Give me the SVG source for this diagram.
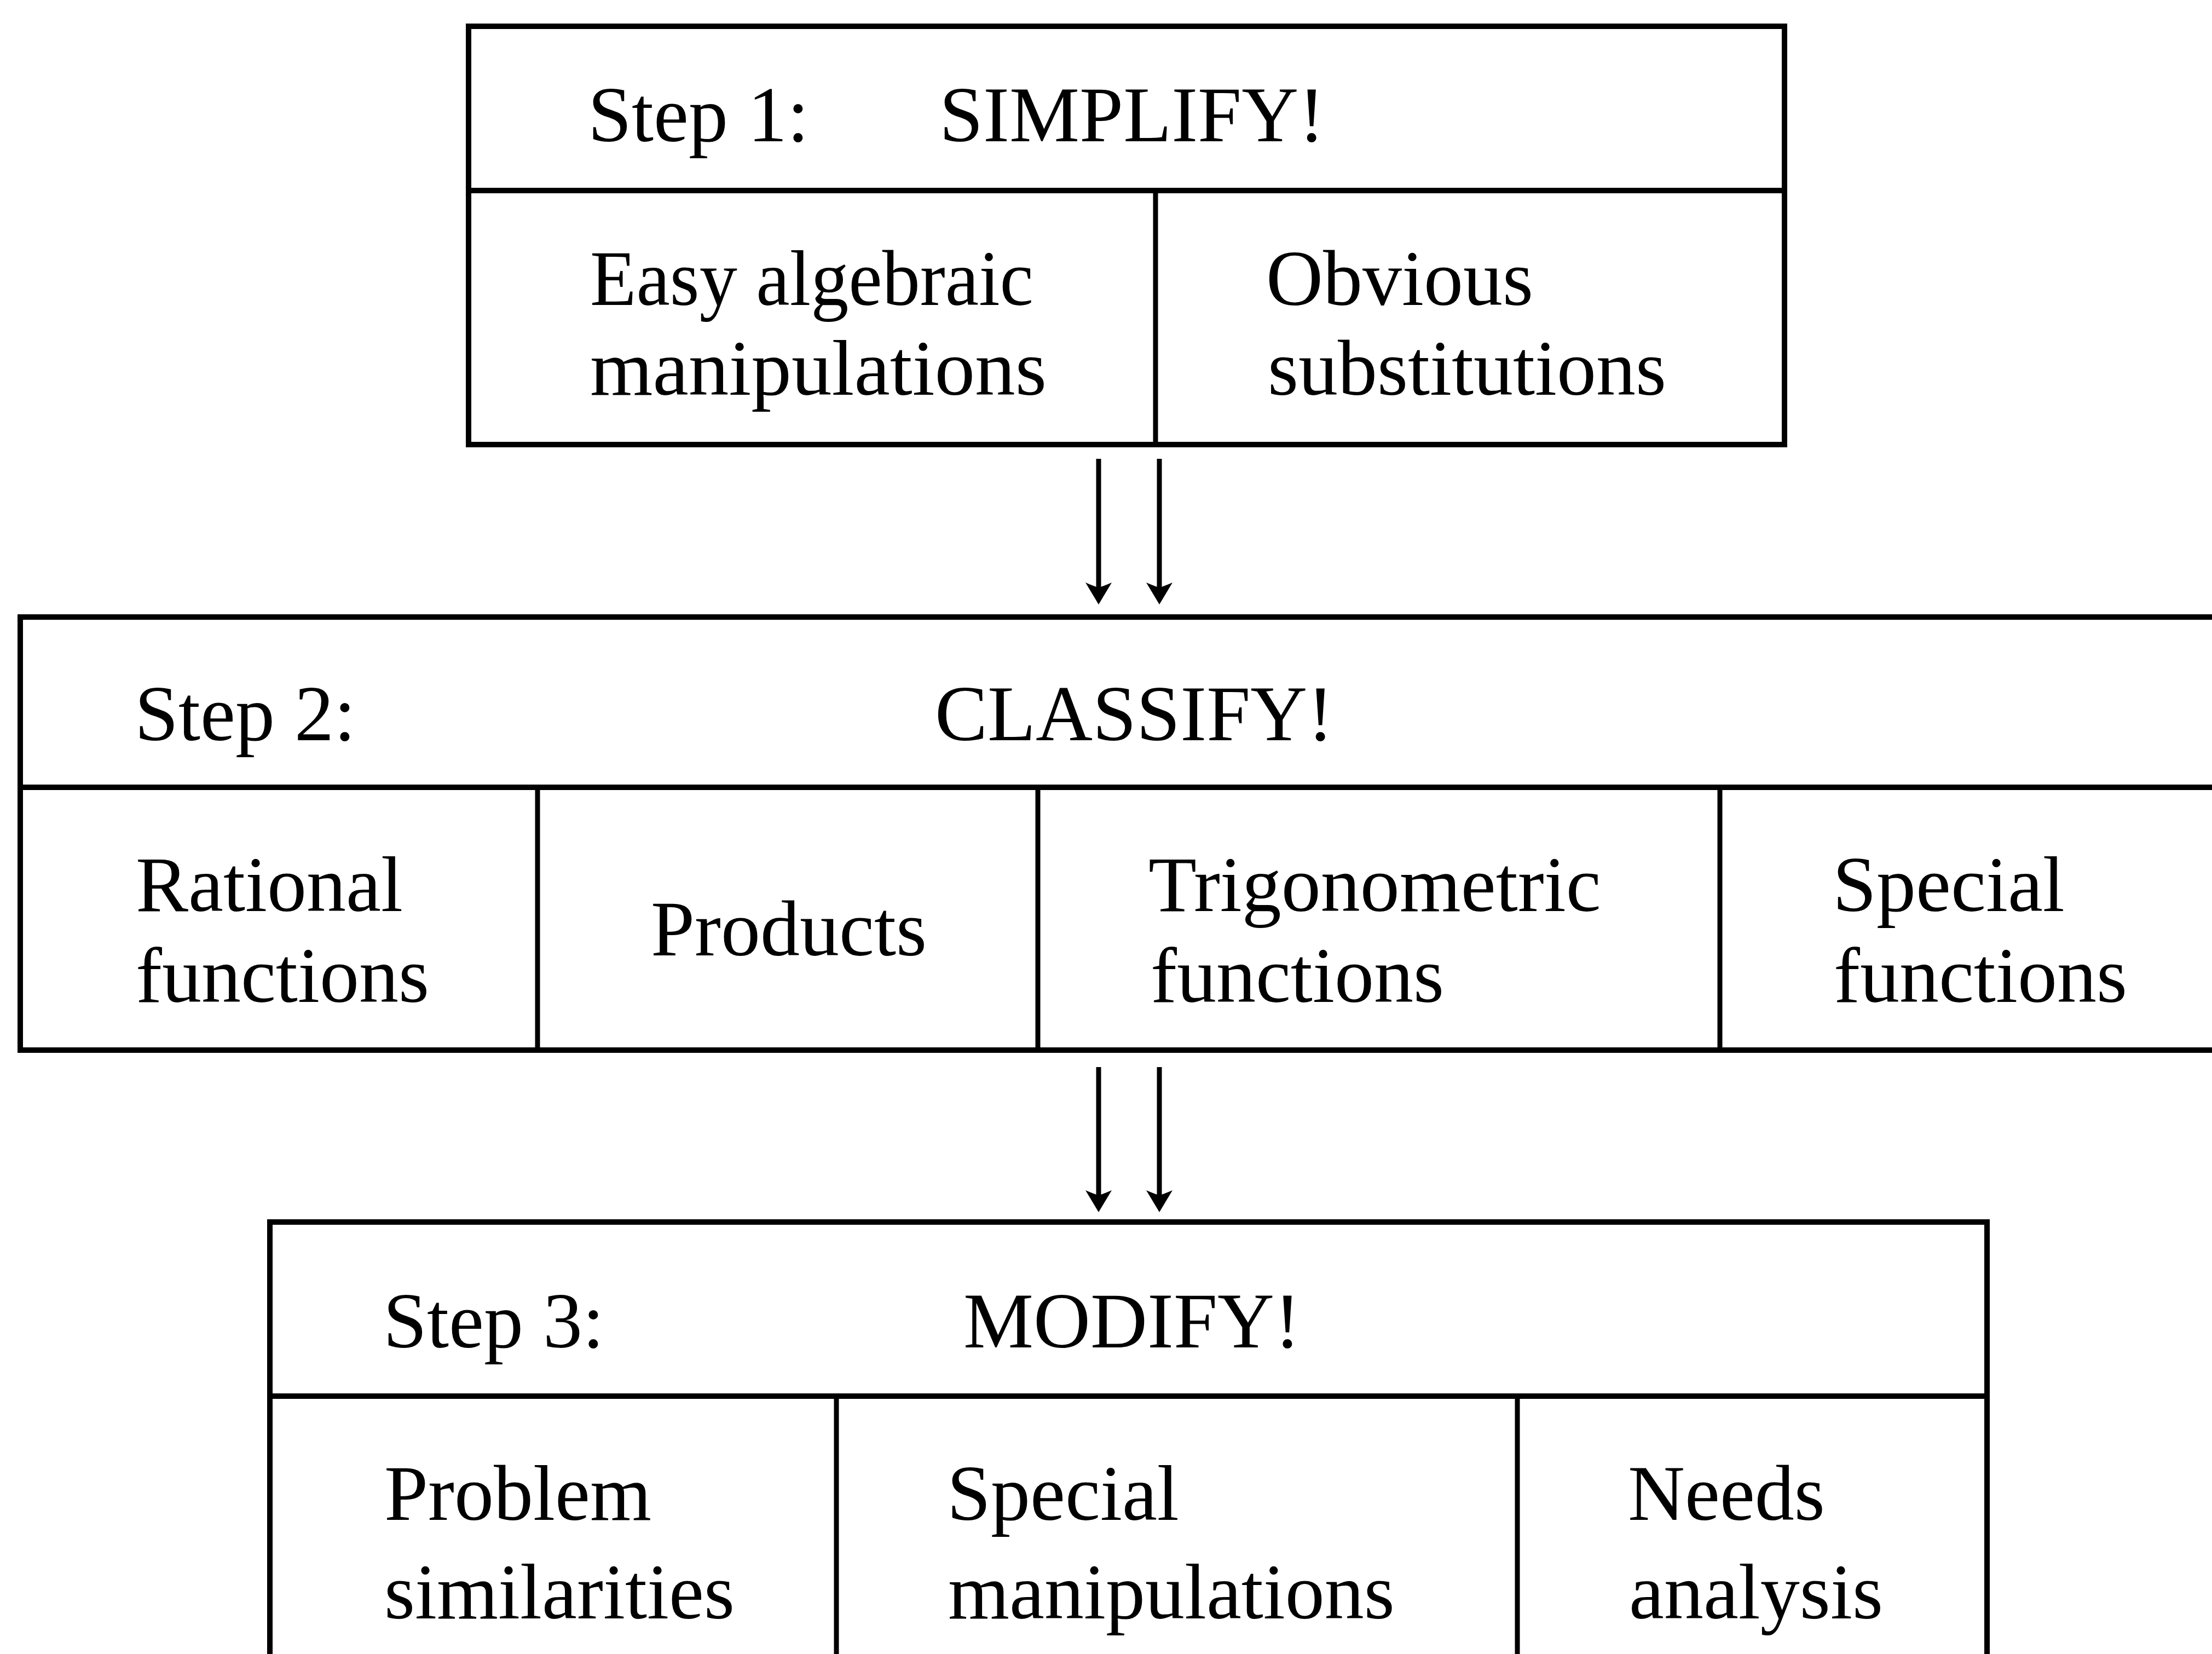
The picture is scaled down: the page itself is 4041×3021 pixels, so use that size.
<svg xmlns="http://www.w3.org/2000/svg" width="4041" height="3021" viewBox="0 0 4041 3021">
  <style>
    .frame { fill: none; stroke: #000; stroke-width: 10; }
    .rule { stroke: #000; stroke-width: 10; fill: none; }
    .div { stroke: #000; stroke-width: 9; fill: none; }
    .shaft { stroke: #000; stroke-width: 9; fill: none; }
    text { font-family: "Liberation Serif", "Times New Roman", serif; font-size: 144px; fill: #000; }
  </style>
  <defs>
    <marker id="head" markerUnits="userSpaceOnUse" viewBox="-44 -27 46 54" refX="-20" refY="0" markerWidth="46" markerHeight="54" orient="auto" overflow="visible">
      <path d="M0,0 L-40,-24 Q-33,-8 -31,0 Q-33,8 -40,24 Z" fill="#000"/>
    </marker>
  </defs>
  <rect width="4041" height="3021" fill="#fff"/>

  <!-- Step 1 -->
  <g id="step1">
    <rect class="frame" x="856" y="48" width="2404" height="764"/>
    <line class="rule" x1="856" y1="348" x2="3260" y2="348"/>
    <line class="div" x1="2111" y1="348" x2="2111" y2="812"/>
    <text x="1074" y="258">Step 1:</text>
    <text x="1716" y="258">SIMPLIFY!</text>
    <g id="step1-algebraic">
      <text x="1078" y="557" textLength="810" lengthAdjust="spacingAndGlyphs">Easy algebraic</text>
      <text x="1078" y="721" textLength="834" lengthAdjust="spacingAndGlyphs">manipulations</text>
    </g>
    <g id="step1-substitutions">
      <text x="2313" y="557">Obvious</text>
      <text x="2316" y="721">substitutions</text>
    </g>
  </g>

  <!-- Step 2 -->
  <g id="step2">
    <rect class="frame" x="37" y="1127" width="4040" height="791"/>
    <line class="rule" x1="37" y1="1438" x2="4060" y2="1438"/>
    <line class="div" x1="982" y1="1438" x2="982" y2="1918"/>
    <line class="div" x1="1896" y1="1438" x2="1896" y2="1918"/>
    <line class="div" x1="3142" y1="1438" x2="3142" y2="1918"/>
    <text x="246" y="1352">Step 2:</text>
    <text x="1708" y="1352">CLASSIFY!</text>
    <g id="step2-rational">
      <text x="248" y="1664">Rational</text>
      <text x="248" y="1830">functions</text>
    </g>
    <g id="step2-products">
      <text x="1189" y="1745">Products</text>
    </g>
    <g id="step2-trigonometric">
      <text x="2098" y="1664">Trigonometric</text>
      <text x="2102" y="1830">functions</text>
    </g>
    <g id="step2-special">
      <text x="3348" y="1664">Special</text>
      <text x="3350" y="1830">functions</text>
    </g>
  </g>

  <!-- Step 3 -->
  <g id="step3">
    <rect class="frame" x="493" y="2232" width="3137" height="820"/>
    <line class="rule" x1="493" y1="2550" x2="3630" y2="2550"/>
    <line class="div" x1="1528" y1="2550" x2="1528" y2="3040"/>
    <line class="div" x1="2772" y1="2550" x2="2772" y2="3040"/>
    <text x="700" y="2461">Step 3:</text>
    <text x="1760" y="2461">MODIFY!</text>
    <g id="step3-similarities">
      <text x="702" y="2776">Problem</text>
      <text x="702" y="2956">similarities</text>
    </g>
    <g id="step3-manipulations">
      <text x="1730" y="2776">Special</text>
      <text x="1732" y="2956">manipulations</text>
    </g>
    <g id="step3-analysis">
      <text x="2974" y="2776">Needs</text>
      <text x="2976" y="2956">analysis</text>
    </g>
  </g>

  <!-- Connectors: paired arrows between the steps -->
  <g id="connectors">
    <line class="shaft" x1="2007" y1="838" x2="2007" y2="1084" marker-end="url(#head)"/>
    <line class="shaft" x1="2118" y1="838" x2="2118" y2="1084" marker-end="url(#head)"/>
    <line class="shaft" x1="2007" y1="1949" x2="2007" y2="2194" marker-end="url(#head)"/>
    <line class="shaft" x1="2118" y1="1949" x2="2118" y2="2194" marker-end="url(#head)"/>
  </g>
</svg>
